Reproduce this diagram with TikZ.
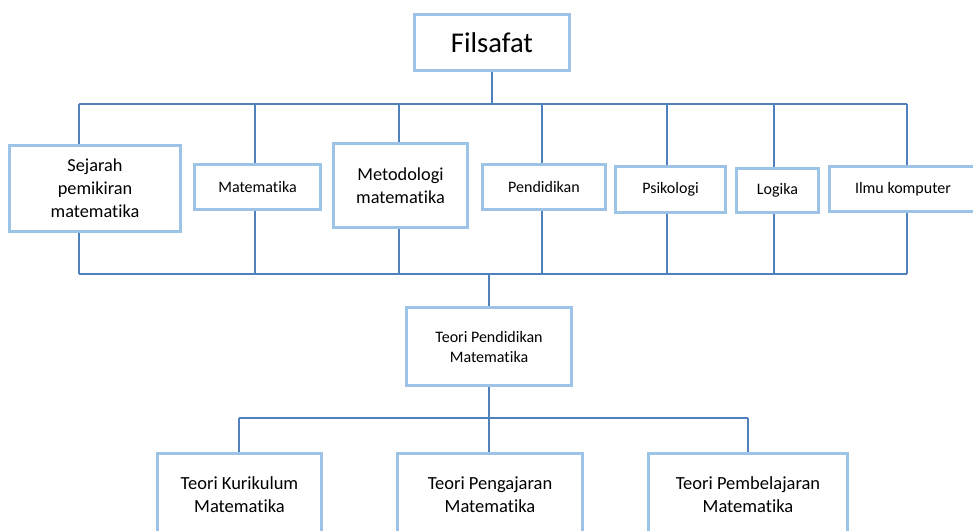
\documentclass[tikz,border=0pt]{standalone}
\usepackage{fontspec}
\setmainfont{Carlito}[Ligatures=NoCommon]
\usetikzlibrary{backgrounds}
\definecolor{garisbiru}{HTML}{4F81BD}
\definecolor{kotakbiru}{HTML}{9DC3E6}
\begin{document}
\begin{tikzpicture}[x=1pt,y=-1pt,
	kotak/.style={draw=kotakbiru,line width=3pt,fill=white,inner sep=0pt,align=center},
	garis/.style={draw=garisbiru,line width=2pt},
	judul/.style={font=\fontsize{28.6}{34}\selectfont},
	sedang/.style={font=\fontsize{18.3}{23}\selectfont},
	kecil/.style={font=\fontsize{16}{20}\selectfont},
	bawah/.style={font=\fontsize{18.5}{23}\selectfont}]
	\useasboundingbox (0,0) rectangle (973,530);

	% kotak atas
	\node[kotak,judul,minimum width=155pt,minimum height=56pt] (fil) at (492,42.5) {Filsafat};

	% baris tengah
	\node[kotak,sedang,minimum width=171pt,minimum height=86pt] (sej) at (95,188.5) {Sejarah\\pemikiran\\matematika};
	\node[kotak,kecil,minimum width=126pt,minimum height=45pt] (mat) at (257.5,187) {Matematika};
	\node[kotak,sedang,minimum width=134pt,minimum height=84pt] (met) at (400.5,185.5) {Metodologi\\matematika};
	\node[kotak,kecil,minimum width=123pt,minimum height=45pt] (pen) at (544,187) {Pendidikan};
	\node[kotak,kecil,minimum width=110pt,minimum height=46pt] (psi) at (670.5,189.5) {Psikologi};
	\node[kotak,kecil,minimum width=82pt,minimum height=44pt] (log) at (777.5,190.5) {Logika};
	\node[kotak,kecil,minimum width=147pt,minimum height=45pt] (ilm) at (903,189) {Ilmu komputer};

	\node[kotak,kecil,minimum width=165pt,minimum height=78pt] (tpm) at (489,346.5) {Teori Pendidikan\\Matematika};

	% baris bawah
	\node[kotak,bawah,minimum width=164pt,minimum height=84pt] (kur) at (239.5,495) {Teori Kurikulum\\Matematika};
	\node[kotak,bawah,minimum width=185pt,minimum height=84pt] (pgj) at (490,495) {Teori Pengajaran\\Matematika};
	\node[kotak,bawah,minimum width=199pt,minimum height=84pt] (pbl) at (748,495) {Teori Pembelajaran\\Matematika};

	\begin{scope}[on background layer]
	\foreach \nm/\x in {sej/79,mat/255,met/399,pen/542,psi/667,log/774,ilm/907} {
	     \coordinate (a-\nm) at (\x,104);
	     \coordinate (b-\nm) at (\x,274);
	     \draw[garis] (a-\nm) -- (a-\nm |- \nm.north);
	     \draw[garis] (b-\nm) -- (b-\nm |- \nm.south);
	}
	\draw[garis] (a-sej) -- (a-ilm);
	\draw[garis] (b-sej) -- (b-ilm);
	\draw[garis] (fil.south) -- (fil.south |- a-sej);

	% ke teori pendidikan
	\coordinate (c-kur) at (239,418);
	\coordinate (c-pbl) at (748,418);
	\draw[garis] (b-sej -| tpm.north) -- (tpm.north);
	\draw[garis] (tpm.south) -- (tpm.south |- pgj.north);
	\draw[garis] (c-kur) -- (c-pbl);
	\draw[garis] (c-kur) -- (c-kur |- kur.north);
	\draw[garis] (c-pbl) -- (c-pbl |- pbl.north);
	\end{scope}
\end{tikzpicture}
\end{document}
